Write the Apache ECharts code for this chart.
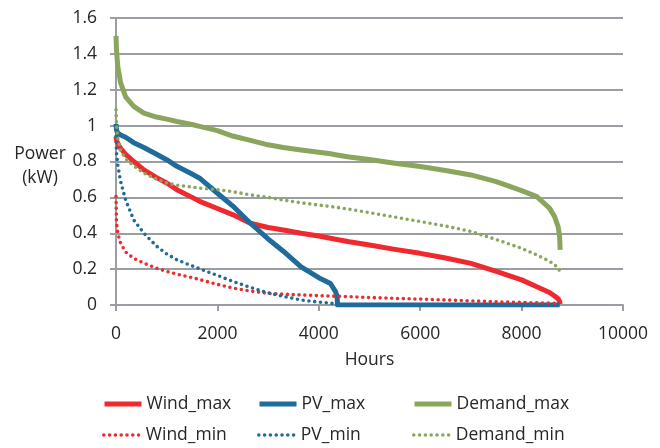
<!DOCTYPE html>
<html>
<head>
<meta charset="utf-8">
<script src="https://cdn.jsdelivr.net/npm/echarts@6/dist/echarts.min.js"></script>
<style>
html,body{margin:0;padding:0;background:#fff;}
#chart{width:660px;height:448px;}
</style>
</head>
<body>
<div id="chart"></div>
<script>
const hours = [0, 10, 35, 90, 190, 350, 550, 800, 1000, 1200, 1500, 1650, 2000, 2300, 2650, 3000, 3300, 3650, 4000, 4230, 4330, 4360, 4370, 4600, 5000, 5500, 6000, 6500, 7000, 7500, 8000, 8300, 8550, 8650, 8720, 8750, 8760];

const windMax = [0.94, 0.92, 0.90, 0.874, 0.84, 0.80, 0.753, 0.71, 0.68, 0.643, 0.60, 0.578, 0.538, 0.504, 0.456, 0.432, 0.418, 0.40, 0.385, 0.372, 0.367, 0.366, 0.365, 0.353, 0.335, 0.31, 0.288, 0.262, 0.232, 0.188, 0.14, 0.102, 0.07, 0.05, 0.035, 0.02, 0.005];
const pvMax = [1.01, 0.975, 0.958, 0.948, 0.935, 0.905, 0.878, 0.84, 0.81, 0.773, 0.73, 0.707, 0.623, 0.553, 0.456, 0.368, 0.30, 0.212, 0.152, 0.12, 0.075, 0.05, 0, 0, 0, 0, 0, 0, 0, 0, 0, 0, 0, 0, 0, 0, 0];
const demandMax = [1.50, 1.42, 1.33, 1.24, 1.16, 1.107, 1.07, 1.048, 1.036, 1.023, 1.006, 0.996, 0.972, 0.942, 0.918, 0.893, 0.878, 0.864, 0.852, 0.843, 0.838, 0.837, 0.836, 0.825, 0.811, 0.79, 0.772, 0.75, 0.725, 0.688, 0.638, 0.604, 0.54, 0.493, 0.437, 0.381, 0.307];
const windMin = [0.604, 0.46, 0.40, 0.345, 0.295, 0.26, 0.233, 0.205, 0.187, 0.172, 0.153, 0.142, 0.115, 0.095, 0.078, 0.065, 0.06, 0.056, 0.052, 0.05, 0.049, 0.049, 0.049, 0.046, 0.042, 0.037, 0.033, 0.028, 0.023, 0.018, 0.014, 0.012, 0.011, 0.01, 0.01, 0.01, 0.01];
const pvMin = [0.94, 0.85, 0.78, 0.69, 0.585, 0.474, 0.40, 0.328, 0.285, 0.252, 0.218, 0.202, 0.165, 0.132, 0.098, 0.068, 0.048, 0.028, 0.016, 0.01, 0.006, 0.004, 0, 0, 0, 0, 0, 0, 0, 0, 0, 0, 0, 0, 0, 0, 0];
const demandMin = [1.088, 1.0, 0.93, 0.86, 0.815, 0.775, 0.735, 0.702, 0.68, 0.668, 0.657, 0.651, 0.643, 0.632, 0.614, 0.60, 0.585, 0.57, 0.557, 0.549, 0.545, 0.544, 0.543, 0.534, 0.515, 0.49, 0.465, 0.44, 0.41, 0.365, 0.316, 0.279, 0.244, 0.225, 0.205, 0.19, 0.177];

const xTicks = [0, 2000, 4000, 6000, 8000, 10000];
const yTicks = [0, 0.2, 0.4, 0.6, 0.8, 1, 1.2, 1.4, 1.6];

const RED = '#EE2A2E', BLUE = '#1F6B9A', GREEN = '#8BA65C';
const FONT = '"Open Sans"';
const FS = 17.5;
const TXT = '#262626';
const GRID = '#9a9da3';
const pair = v => hours.map((h, i) => [h, v[i]]);

const solidStyle = c => ({ color: c, width: 5, cap: 'butt', join: 'round' });
const dotStyle = c => ({ color: c, width: 3.6, type: [0, 5.8], cap: 'round' });

function series(name, vals, color, dotted) {
  return {
    name, type: 'line', data: pair(vals), showSymbol: false, symbol: 'none',
    lineStyle: dotted ? dotStyle(color) : solidStyle(color),
    itemStyle: { color }, animation: false
  };
}

function legendAt(name, left, top, color, dotted) {
  return {
    data: [name], left, top, padding: 0, itemWidth: 37, itemHeight: 18, itemGap: 0,
    selectedMode: false,
    textStyle: { fontFamily: FONT, fontSize: FS, color: TXT },
    itemStyle: { opacity: 0, borderWidth: 0 },
    lineStyle: dotted ? dotStyle(color) : solidStyle(color)
  };
}

const chart = echarts.init(document.getElementById('chart'), null, { renderer: 'canvas' });

chart.setOption({
  backgroundColor: '#fff',
  animation: false,
  grid: { left: 116, right: 37, top: 18, bottom: 143 },
  legend: [
    legendAt('Wind_max', 102, 395, RED, false),
    legendAt('PV_max', 257, 395, BLUE, false),
    legendAt('Demand_max', 412, 395, GREEN, false),
    legendAt('Wind_min', 102, 426, RED, true),
    legendAt('PV_min', 257, 426, BLUE, true),
    legendAt('Demand_min', 412, 426, GREEN, true)
  ],
  xAxis: {
    type: 'value', min: 0, max: 10000, interval: 2000,
    name: 'Hours', nameLocation: 'middle', nameGap: 46,
    nameTextStyle: { fontFamily: FONT, fontSize: FS, color: TXT },
    axisLine: { show: true, lineStyle: { color: GRID, width: 2 } },
    axisTick: { show: true, length: 6, lineStyle: { color: GRID, width: 2 } },
    axisLabel: { fontFamily: FONT, fontSize: FS, color: TXT, margin: 20,
      formatter: v => xTicks.includes(v) ? String(v) : '' },
    splitLine: { show: false }
  },
  yAxis: {
    type: 'value', min: 0, max: 1.6, interval: 0.2,
    name: '{g|}\nPower\n(kW)', nameLocation: 'middle', nameGap: 76, nameRotate: 0,
    nameTextStyle: { fontFamily: FONT, fontSize: FS, color: TXT, lineHeight: 23.5, align: 'center',
      rich: { g: { lineHeight: 9, fontSize: 4 } } },
    axisLine: { show: true, lineStyle: { color: GRID, width: 2 } },
    axisTick: { show: true, length: 6, lineStyle: { color: GRID, width: 2 } },
    axisLabel: { fontFamily: FONT, fontSize: FS, color: TXT, margin: 19,
      formatter: v => { const t = yTicks.find(y => Math.abs(y - v) < 1e-9); return t === undefined ? '' : String(t); } },
    splitLine: { show: true, lineStyle: { color: GRID, width: 2 } }
  },
  series: [
    series('Wind_max', windMax, RED, false),
    series('PV_max', pvMax, BLUE, false),
    series('Demand_max', demandMax, GREEN, false),
    series('Wind_min', windMin, RED, true),
    series('PV_min', pvMin, BLUE, true),
    series('Demand_min', demandMin, GREEN, true)
  ]
});
</script>
</body>
</html>
